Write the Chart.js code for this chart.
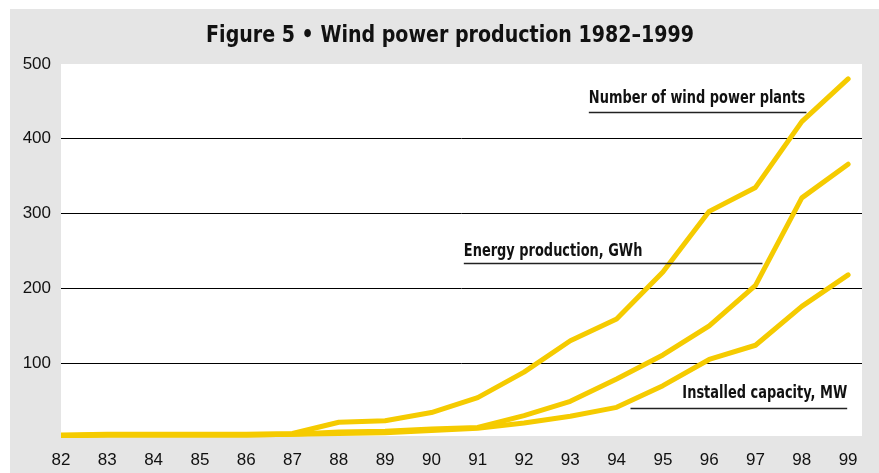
<!DOCTYPE html>
<html>
<head>
<meta charset="utf-8">
<script src="https://cdn.jsdelivr.net/npm/chart.js@4/dist/chart.umd.min.js"></script>
<style>
  html, body { margin: 0; padding: 0; background: #fff; }
  #wrap { width: 879px; height: 473px; position: relative; }
</style>
</head>
<body>
<div id="wrap"><canvas id="chart"></canvas></div>
<script>
// years on the x axis (1982-1999) and their printed labels
const years = [82, 83, 84, 85, 86, 87, 88, 89, 90, 91, 92, 93, 94, 95, 96, 97, 98, 99];
const yearLabels = ["82", "83", "84", "85", "86", "87", "88", "89", "90", "91", "92", "93", "94", "95", "96", "97", "98", "99"];

// values
const plants   = [4, 5, 5, 5, 5, 6, 21, 23, 34, 54, 88, 130, 159, 222, 303, 335, 423, 480];
const energy   = [3, 4, 4, 4, 4, 5, 8, 9, 12, 14, 30, 49, 79, 111, 150, 204, 321, 366];
const capacity = [3, 4, 4, 4, 4, 5, 6, 7, 10, 13, 20, 29, 41, 70, 105, 124, 176, 218];

const yTicks = [100, 200, 300, 400, 500];

const titleText = "Figure 5 • Wind power production 1982–1999";
const lineColor = "#f5cb00";
const condensed = "'DejaVu Sans Condensed', 'DejaVu Sans', sans-serif";

// text labels with a rule under them, placed in data units
const notes = [
  { text: "Number of wind power plants", x: 93.4, y: 454, lineFrom: 93.4, lineTo: 98.1, lineY: 436, align: "left" },
  { text: "Energy production, GWh", x: 90.7, y: 250, lineFrom: 90.7, lineTo: 97.15, lineY: 234, align: "left" },
  { text: "Installed capacity, MW", x: 98.98, y: 60, lineFrom: 94.3, lineTo: 98.98, lineY: 40, align: "right" }
];

function points(values) {
  return values.map((v, i) => ({ x: years[i], y: v }));
}

// draws text squeezed horizontally, the printed figure uses a narrow face
function narrowText(ctx, text, x, y, squeeze) {
  ctx.save();
  ctx.translate(x, y);
  ctx.scale(squeeze, 1);
  ctx.fillText(text, 0, 0);
  ctx.restore();
}

const background = {
  id: "background",
  beforeDraw(chart) {
    const { ctx, chartArea } = chart;
    ctx.save();
    ctx.fillStyle = "#e5e5e5";
    ctx.fillRect(10, 9, chart.width - 10, chart.height - 9);
    ctx.fillStyle = "#ffffff";
    ctx.fillRect(chartArea.left, chartArea.top, chartArea.right - chartArea.left, chartArea.bottom - chartArea.top - 2);
    // title
    ctx.font = "bold 23px " + condensed;
    ctx.fillStyle = "#111";
    ctx.textAlign = "center";
    ctx.textBaseline = "alphabetic";
    narrowText(ctx, titleText, 450, 42, 0.92);
    ctx.restore();
  }
};

const noteLabels = {
  id: "noteLabels",
  afterDatasetsDraw(chart) {
    const { ctx, scales: { x, y } } = chart;
    ctx.save();
    ctx.font = "bold 18px " + condensed;
    ctx.fillStyle = "#111";
    ctx.textBaseline = "middle";
    notes.forEach(n => {
      ctx.textAlign = n.align;
      narrowText(ctx, n.text, x.getPixelForValue(n.x), y.getPixelForValue(n.y), 0.8);
      ctx.beginPath();
      ctx.strokeStyle = "#222";
      ctx.lineWidth = 1.5;
      const ly = Math.round(y.getPixelForValue(n.lineY)) + 0.5;
      ctx.moveTo(x.getPixelForValue(n.lineFrom), ly);
      ctx.lineTo(x.getPixelForValue(n.lineTo), ly);
      ctx.stroke();
    });
    ctx.restore();
  }
};

const makeSet = (label, values) => ({
  label: label,
  data: points(values),
  borderColor: lineColor,
  borderWidth: 5,
  pointRadius: 0,
  fill: false,
  tension: 0,
  borderCapStyle: "round",
  borderJoinStyle: "round"
});

new Chart(document.getElementById("chart"), {
  type: "line",
  data: {
    datasets: [
      makeSet("Number of wind power plants", plants),
      makeSet("Energy production, GWh", energy),
      makeSet("Installed capacity, MW", capacity)
    ]
  },
  options: {
    responsive: true,
    maintainAspectRatio: false,
    animation: false,
    layout: { padding: { left: 10, right: 17, top: 64, bottom: 0 } },
    plugins: {
      legend: { display: false },
      tooltip: { enabled: false },
      title: { display: false }
    },
    scales: {
      x: {
        type: "linear",
        min: 82,
        max: 99.3,
        afterBuildTicks: s => { s.ticks = years.map(v => ({ value: v })); },
        afterFit: s => { s.height = 35; },
        grid: { display: false, drawTicks: false },
        border: { display: false },
        ticks: {
          color: "#111",
          padding: 12,
          maxRotation: 0,
          autoSkip: false,
          font: { family: "'Liberation Sans', sans-serif", size: 17 },
          callback: v => yearLabels[years.indexOf(v)]
        }
      },
      y: {
        min: 0,
        max: 500,
        afterBuildTicks: s => { s.ticks = [0].concat(yTicks).map(v => ({ value: v })); },
        afterFit: s => { s.width = 51; },
        grid: {
          drawTicks: false,
          color: c => (c.tick && c.tick.value > 0 && c.tick.value < 500) ? "#000" : "rgba(0,0,0,0)",
          lineWidth: 1
        },
        border: { display: false },
        ticks: {
          color: "#111",
          padding: 10,
          font: { family: "'Liberation Sans', sans-serif", size: 17 },
          callback: v => (v === 0 ? "" : String(v))
        }
      }
    }
  },
  plugins: [background, noteLabels]
});
</script>
</body>
</html>
